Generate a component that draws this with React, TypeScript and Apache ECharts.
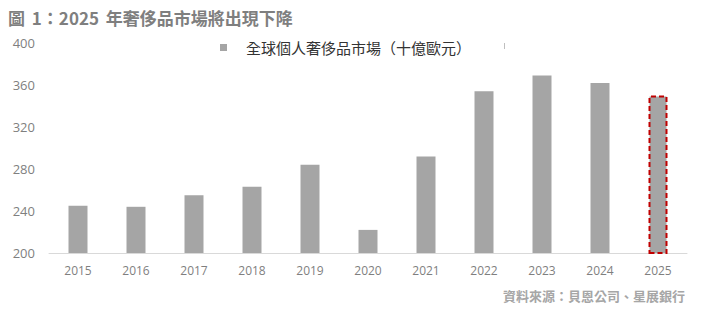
import React, { useEffect, useRef } from "react";
import * as echarts from "echarts";

const categories = ["2015", "2016", "2017", "2018", "2019", "2020", "2021", "2022", "2023", "2024", "2025"];
const marketValues = [245, 244, 255, 263, 284, 222, 292, 354, 369, 362, 350];
const seriesName = "全球個人奢侈品市場（十億歐元）";
const titleParts = ["圖 ", "1：2025 ", "年奢侈品市場將出現下降"];
const sourceText = "資料來源：貝恩公司、星展銀行";
const highlightIndex = 10;

const FONT = '"Open Sans", "Noto Sans CJK TC", sans-serif';
const CJK = '"Noto Sans CJK TC", "Open Sans", sans-serif';

export default function App() {
  const ref = useRef<HTMLDivElement>(null);
  useEffect(() => {
    if (!ref.current) return;
    const chart = echarts.init(ref.current, null, { renderer: "svg" });
    const data = marketValues.map((v, i) =>
      i === highlightIndex
        ? {
            value: v,
            itemStyle: {
              color: "#a5a5a5",
              borderColor: "#c00000",
              borderWidth: 2,
              borderType: [5, 3] as any,
            },
          }
        : v
    );
    const tStyle = { fontFamily: CJK, fontSize: 17, fontWeight: "bold", color: "#7f7f7f" };
    chart.setOption({
      animation: false,
      backgroundColor: "#ffffff",
      title: {
        text: `{a|${titleParts[0]}}{b|${titleParts[1]}}{c|${titleParts[2]}}`,
        left: 8,
        top: 9,
        padding: 0,
        textStyle: {
          ...tStyle,
          rich: {
            a: { ...tStyle, padding: [0, 3, 0, 0] },
            b: { ...tStyle, padding: [0, 3, 0, 0] },
            c: { ...tStyle },
          },
        },
      },
      legend: {
        data: [seriesName],
        left: 220,
        top: 40,
        padding: 0,
        icon: "rect",
        itemWidth: 7,
        itemHeight: 7,
        textStyle: { fontFamily: CJK, fontSize: 15, color: "#333333", padding: [0, 0, 0, 14] },
      },
      grid: { left: 49, right: 25, top: 43, bottom: 76 },
      xAxis: {
        type: "category",
        data: categories,
        axisLine: { lineStyle: { color: "#d9d9d9", width: 1 } },
        axisTick: { show: false },
        axisLabel: { fontFamily: FONT, fontSize: 12, color: "#7f7f7f", margin: 11 },
      },
      yAxis: {
        type: "value",
        min: 200,
        max: 400,
        interval: 40,
        splitLine: { show: false },
        axisLine: { show: false },
        axisTick: { show: false },
        axisLabel: { fontFamily: FONT, fontSize: 13, color: "#7f7f7f", margin: 14 },
      },
      series: [
        {
          name: seriesName,
          type: "bar",
          barWidth: 19,
          itemStyle: { color: "#a5a5a5" },
          data,
        },
      ],
      graphic: [
        {
          type: "text",
          right: 27,
          top: 289,
          style: {
            text: sourceText,
            font: `bold 13px ${CJK}`,
            fill: "#a6a6a6",
          },
        },
        {
          type: "rect",
          shape: { x: 504, y: 43, width: 1, height: 6 },
          style: { fill: "#bfbfbf" },
        },
      ],
    });
    return () => chart.dispose();
  }, []);
  return (
    <div
      ref={ref}
      style={{ position: "absolute", left: 0, top: 0, width: 712, height: 329, background: "#fff" }}
    />
  );
}
